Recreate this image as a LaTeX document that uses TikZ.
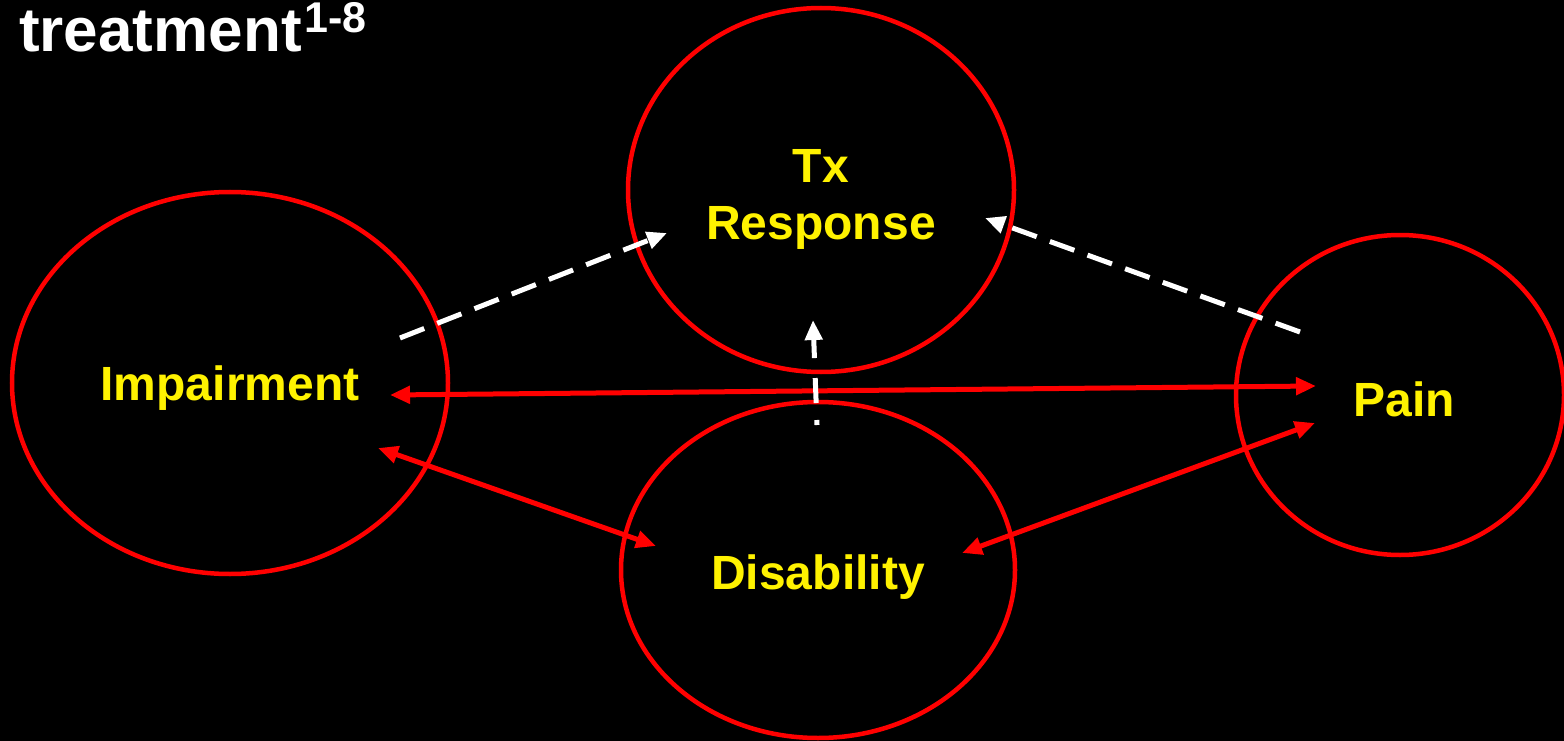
\documentclass[tikz,border=0pt]{standalone}
\usepackage{fontspec}
\setmainfont{Liberation Sans}
\usetikzlibrary{arrows.meta}
\begin{document}
\begin{tikzpicture}[x=1pt,y=-1pt,
  ring/.style={draw=red,line width=4.5pt},
  lbl/.style={text=yellow,font=\fontsize{48}{57}\selectfont\bfseries,align=center},
  rarr/.style={draw=red,line width=5pt,{Triangle[length=20pt,width=17pt]}-{Triangle[length=20pt,width=17pt]}},
  warr/.style={draw=white,line width=5pt,dash pattern=on 26pt off 14pt,-{Triangle[length=20pt,width=17pt]}}]
\fill[black] (0,0) rectangle (1564,741);
\useasboundingbox (0,0) rectangle (1564,741);
\node[anchor=base west,text=white,font=\fontsize{62}{68}\selectfont\bfseries,inner sep=0pt] (title) at (19,52) {treatment\kern3pt\raisebox{19pt}{\fontsize{43}{46}\selectfont 1-8}};
\draw[ring] (230,383) ellipse [x radius=218,y radius=191];
\draw[ring] (821,190) ellipse [x radius=193,y radius=182];
\draw[ring] (818,570) ellipse [x radius=197,y radius=168];
\draw[ring] (1400,395) ellipse [x radius=164,y radius=160];
\node[lbl] (imp) at (230,388) {Impairment};
\node[lbl] (tx) at (821,199) {Tx\\Response};
\node[lbl] (dis) at (818,577) {Disability};
\node[lbl] (pain) at (1404,399) {Pain};
\coordinate (a1) at (390,395);
\coordinate (a2) at (1316,386);
\coordinate (b1) at (378,448);
\coordinate (b2) at (656,546);
\coordinate (c1) at (1315,423);
\coordinate (c2) at (962,553);
\coordinate (d1) at (400,338);
\coordinate (d2) at (667,233);
\coordinate (e1) at (1300,332);
\coordinate (e2) at (985,218);
\coordinate (f1) at (817,425);
\coordinate (f2) at (813,320);
\draw[rarr] (a1) -- (a2);
\draw[rarr] (b1) -- (b2);
\draw[rarr] (c1) -- (c2);
\draw[warr] (d1) -- (d2);
\draw[warr] (e1) -- (e2);
\draw[warr,dash pattern=on 5pt off 17pt on 25pt off 20pt on 100pt] (f1) -- (f2);
\end{tikzpicture}
\end{document}
